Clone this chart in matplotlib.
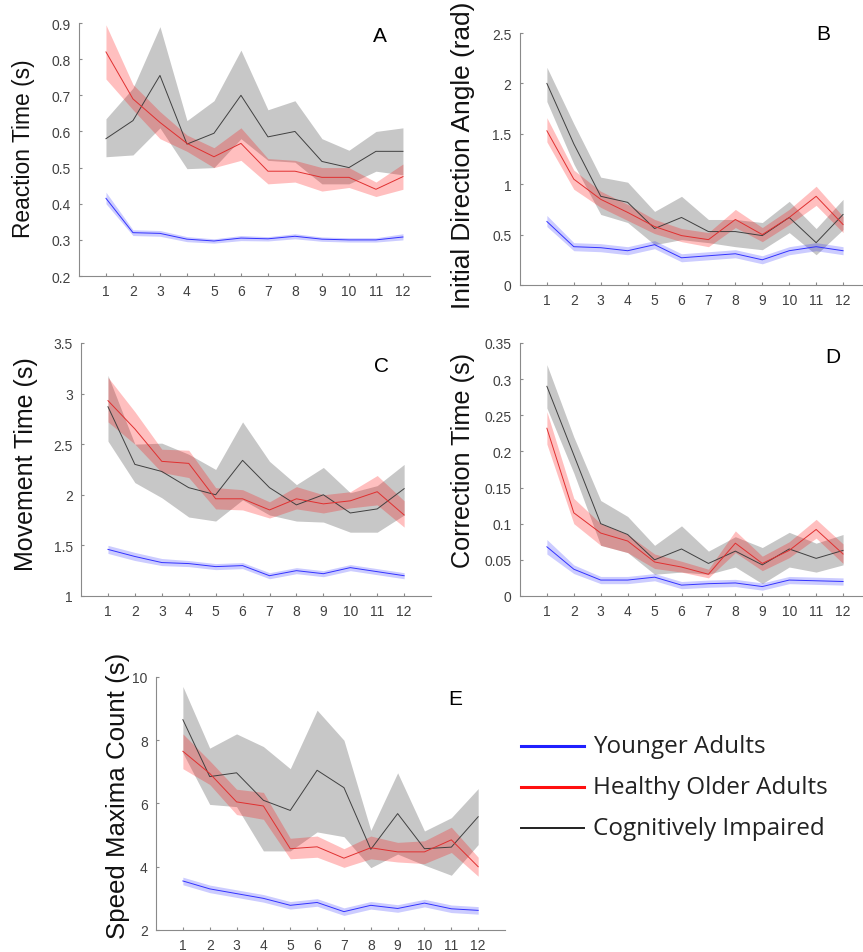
import matplotlib.pyplot as plt
import numpy as np

blocks = np.arange(1, 13)

# panel A - reaction time
ya_mean = [0.415, 0.32, 0.318, 0.302, 0.297, 0.305, 0.303, 0.31, 0.302, 0.300, 0.300, 0.308]
ya_lo = [0.400, 0.312, 0.310, 0.295, 0.291, 0.298, 0.297, 0.303, 0.296, 0.294, 0.294, 0.300]
ya_hi = [0.432, 0.328, 0.326, 0.309, 0.303, 0.312, 0.309, 0.317, 0.308, 0.306, 0.306, 0.317]
ha_mean = [0.82, 0.69, 0.625, 0.567, 0.53, 0.567, 0.49, 0.49, 0.473, 0.473, 0.44, 0.475]
ha_lo = [0.745, 0.66, 0.58, 0.545, 0.50, 0.52, 0.455, 0.46, 0.435, 0.445, 0.42, 0.44]
ha_hi = [0.895, 0.73, 0.655, 0.59, 0.555, 0.61, 0.525, 0.52, 0.50, 0.50, 0.46, 0.51]
ca_mean = [0.58, 0.63, 0.755, 0.565, 0.595, 0.70, 0.585, 0.60, 0.517, 0.50, 0.545, 0.545]
ca_lo = [0.53, 0.535, 0.61, 0.497, 0.50, 0.58, 0.52, 0.515, 0.455, 0.455, 0.49, 0.48]
ca_hi = [0.635, 0.72, 0.89, 0.63, 0.685, 0.825, 0.66, 0.685, 0.58, 0.548, 0.60, 0.61]

# panel B - initial direction angle
yb_mean = [0.63, 0.38, 0.37, 0.34, 0.40, 0.27, 0.29, 0.31, 0.25, 0.34, 0.38, 0.34]
yb_lo = [0.58, 0.34, 0.33, 0.30, 0.36, 0.23, 0.25, 0.27, 0.21, 0.30, 0.34, 0.30]
yb_hi = [0.69, 0.42, 0.41, 0.38, 0.44, 0.31, 0.33, 0.35, 0.29, 0.38, 0.42, 0.38]
hb_mean = [1.53, 1.05, 0.85, 0.72, 0.58, 0.49, 0.45, 0.65, 0.50, 0.67, 0.88, 0.60]
hb_lo = [1.42, 0.95, 0.77, 0.64, 0.51, 0.43, 0.38, 0.57, 0.43, 0.60, 0.79, 0.52]
hb_hi = [1.66, 1.14, 0.93, 0.80, 0.65, 0.56, 0.52, 0.75, 0.57, 0.75, 0.98, 0.68]
cb_mean = [2.0, 1.40, 0.88, 0.82, 0.56, 0.67, 0.53, 0.53, 0.49, 0.67, 0.42, 0.70]
cb_lo = [1.82, 1.20, 0.70, 0.62, 0.40, 0.45, 0.42, 0.38, 0.35, 0.52, 0.30, 0.55]
cb_hi = [2.16, 1.60, 1.07, 1.02, 0.73, 0.88, 0.65, 0.65, 0.62, 0.83, 0.56, 0.85]

# panel C - movement time
yc_mean = [1.46, 1.39, 1.33, 1.32, 1.29, 1.30, 1.20, 1.25, 1.22, 1.28, 1.24, 1.20]
yc_lo = [1.42, 1.35, 1.30, 1.29, 1.26, 1.27, 1.17, 1.22, 1.19, 1.25, 1.21, 1.17]
yc_hi = [1.50, 1.43, 1.37, 1.35, 1.32, 1.33, 1.23, 1.28, 1.25, 1.31, 1.27, 1.23]
hc_mean = [2.93, 2.65, 2.33, 2.31, 1.96, 1.96, 1.85, 1.96, 1.91, 1.94, 2.03, 1.80]
hc_lo = [2.72, 2.50, 2.22, 2.17, 1.86, 1.85, 1.77, 1.86, 1.82, 1.87, 1.90, 1.68]
hc_hi = [3.16, 2.82, 2.45, 2.44, 2.07, 2.05, 1.93, 2.08, 2.00, 2.03, 2.19, 1.94]
cc_mean = [2.87, 2.30, 2.23, 2.07, 2.00, 2.34, 2.07, 1.90, 2.00, 1.82, 1.86, 2.06]
cc_lo = [2.53, 2.12, 1.97, 1.78, 1.74, 1.95, 1.80, 1.74, 1.73, 1.63, 1.63, 1.80]
cc_hi = [3.18, 2.50, 2.51, 2.40, 2.25, 2.72, 2.33, 2.10, 2.27, 2.02, 2.09, 2.30]

# panel D - correction time
yd_mean = [0.068, 0.037, 0.022, 0.022, 0.026, 0.015, 0.017, 0.018, 0.013, 0.022, 0.021, 0.020]
yd_lo = [0.058, 0.031, 0.017, 0.017, 0.021, 0.010, 0.012, 0.013, 0.008, 0.017, 0.016, 0.015]
yd_hi = [0.078, 0.043, 0.027, 0.027, 0.031, 0.020, 0.022, 0.023, 0.018, 0.027, 0.026, 0.025]
hd_mean = [0.232, 0.115, 0.087, 0.076, 0.047, 0.040, 0.030, 0.073, 0.045, 0.063, 0.092, 0.058]
hd_lo = [0.21, 0.10, 0.07, 0.06, 0.038, 0.033, 0.025, 0.06, 0.035, 0.053, 0.08, 0.045]
hd_hi = [0.255, 0.135, 0.10, 0.085, 0.058, 0.048, 0.037, 0.09, 0.055, 0.075, 0.106, 0.072]
cd_mean = [0.29, 0.195, 0.10, 0.085, 0.05, 0.065, 0.045, 0.062, 0.043, 0.065, 0.052, 0.063]
cd_lo = [0.26, 0.17, 0.07, 0.06, 0.03, 0.033, 0.03, 0.04, 0.017, 0.04, 0.033, 0.043]
cd_hi = [0.32, 0.22, 0.132, 0.11, 0.07, 0.097, 0.062, 0.082, 0.067, 0.088, 0.073, 0.085]

# panel E - speed maxima count
ye_mean = [3.55, 3.30, 3.15, 3.00, 2.78, 2.87, 2.58, 2.78, 2.68, 2.85, 2.67, 2.62]
ye_lo = [3.43, 3.18, 3.03, 2.88, 2.66, 2.75, 2.46, 2.66, 2.56, 2.73, 2.55, 2.50]
ye_hi = [3.67, 3.42, 3.27, 3.12, 2.90, 2.99, 2.70, 2.90, 2.80, 2.97, 2.79, 2.74]
he_mean = [7.65, 6.95, 6.05, 5.92, 4.57, 4.63, 4.27, 4.60, 4.47, 4.47, 4.85, 4.00]
he_lo = [7.10, 6.60, 5.65, 5.50, 4.25, 4.30, 3.98, 4.25, 4.15, 4.10, 4.45, 3.70]
he_hi = [8.20, 7.35, 6.45, 6.35, 4.90, 4.97, 4.57, 4.97, 4.77, 4.82, 5.25, 4.30]
ce_mean = [8.65, 6.85, 6.97, 6.10, 5.78, 7.05, 6.50, 4.55, 5.68, 4.57, 4.62, 5.58]
ce_lo = [7.60, 5.97, 5.90, 4.50, 4.50, 5.10, 4.95, 3.97, 4.40, 4.05, 3.73, 4.70]
ce_hi = [9.70, 7.75, 8.20, 7.80, 7.10, 8.95, 8.00, 5.15, 6.97, 5.13, 5.55, 6.47]

group_names = ['Younger Adults', 'Healthy Older Adults', 'Cognitively Impaired']

panels = [
    ('A', 'Reaction Time (s)', (0.2, 0.9), np.arange(0.2, 0.91, 0.1), ['0.2', '0.3', '0.4', '0.5', '0.6', '0.7', '0.8', '0.9'],
     (ya_mean, ya_lo, ya_hi), (ha_mean, ha_lo, ha_hi), (ca_mean, ca_lo, ca_hi)),
    ('B', 'Initial Direction Angle (rad)', (0, 2.5), [0, 0.5, 1, 1.5, 2, 2.5], ['0', '0.5', '1', '1.5', '2', '2.5'],
     (yb_mean, yb_lo, yb_hi), (hb_mean, hb_lo, hb_hi), (cb_mean, cb_lo, cb_hi)),
    ('C', 'Movement Time (s)', (1, 3.5), [1, 1.5, 2, 2.5, 3, 3.5], ['1', '1.5', '2', '2.5', '3', '3.5'],
     (yc_mean, yc_lo, yc_hi), (hc_mean, hc_lo, hc_hi), (cc_mean, cc_lo, cc_hi)),
    ('D', 'Correction Time (s)', (0, 0.35), [0, 0.05, 0.1, 0.15, 0.2, 0.25, 0.3, 0.35],
     ['0', '0.05', '0.1', '0.15', '0.2', '0.25', '0.3', '0.35'],
     (yd_mean, yd_lo, yd_hi), (hd_mean, hd_lo, hd_hi), (cd_mean, cd_lo, cd_hi)),
    ('E', 'Speed Maxima Count (s)', (2, 10), [2, 4, 6, 8, 10], ['2', '4', '6', '8', '10'],
     (ye_mean, ye_lo, ye_hi), (he_mean, he_lo, he_hi), (ce_mean, ce_lo, ce_hi)),
]

# axes rectangles in figure fraction (left, bottom, width, height)
rects = [
    [0.0915, 0.7093, 0.4067, 0.2655],
    [0.6025, 0.6999, 0.4056, 0.2644],
    [0.0939, 0.3736, 0.4056, 0.2655],
    [0.6025, 0.3736, 0.4056, 0.2655],
    [0.1808, 0.0231, 0.4044, 0.2655],
]
label_pos = [(-0.125, 0.506), (-0.129, 0.52), (-0.124, 0.526), (-0.129, 0.54), (-0.0745, 0.534)]
label_size = [16.4, 18.9, 18.0, 18.2, 18.6]
letter_pos = [(0.858, 0.949), (0.866, 1.0), (0.858, 0.909), (0.894, 0.945), (0.857, 0.913)]

plt.rcParams['font.family'] = ['Liberation Sans', 'DejaVu Sans']

fig = plt.figure(figsize=(8.63, 9.53), dpi=100)

fill_cols = ['#0000ff', '#ff0000', '#000000']
fill_alpha = [0.2, 0.25, 0.22]
line_cols = ['#3333ff', '#e03030', '#404040']

for i, (letter, ylab, ylim, yt, ytl, young, healthy, impaired) in enumerate(panels):
    ax = fig.add_axes(rects[i])
    for j, grp in enumerate([impaired, healthy, young]):
        k = 2 - j
        m, lo, hi = grp
        ax.fill_between(blocks, lo, hi, color=fill_cols[k], alpha=fill_alpha[k], lw=0)
        ax.plot(blocks, m, color=line_cols[k], lw=0.7)
    ax.set_xlim(0, 13)
    ax.set_ylim(*ylim)
    ax.set_xticks(blocks)
    ax.set_yticks(yt)
    ax.set_yticklabels(ytl)
    for s in ['top', 'right']:
        ax.spines[s].set_visible(False)
    for s in ['left', 'bottom']:
        ax.spines[s].set_color('#8a8a8a')
        ax.spines[s].set_linewidth(0.8)
    ax.tick_params(direction='in', length=2.5, color='#8a8a8a', labelsize=10, labelcolor='#404040', pad=6)
    ax.set_ylabel(ylab, fontsize=label_size[i], color='#111111')
    ax.yaxis.set_label_coords(*label_pos[i])
    ax.text(letter_pos[i][0], letter_pos[i][1], letter, transform=ax.transAxes,
            fontsize=15, ha='center', va='center')

# legend
legend_y = [747, 788, 829]
legend_cols = ['#2020ff', '#ff1010', '#202020']
legend_lw = [2.2, 2.2, 1.4]
for j in range(3):
    yf = 1 - legend_y[j] / 953
    fig.add_artist(plt.Line2D([521 / 863, 584 / 863], [yf, yf], color=legend_cols[j], lw=legend_lw[j]))
    fig.text(593 / 863, yf, group_names[j], fontsize=17.5, va='center', ha='left',
             color='#222222', family=['Open Sans', 'DejaVu Sans'])

fig.savefig('out.png', dpi=100)
